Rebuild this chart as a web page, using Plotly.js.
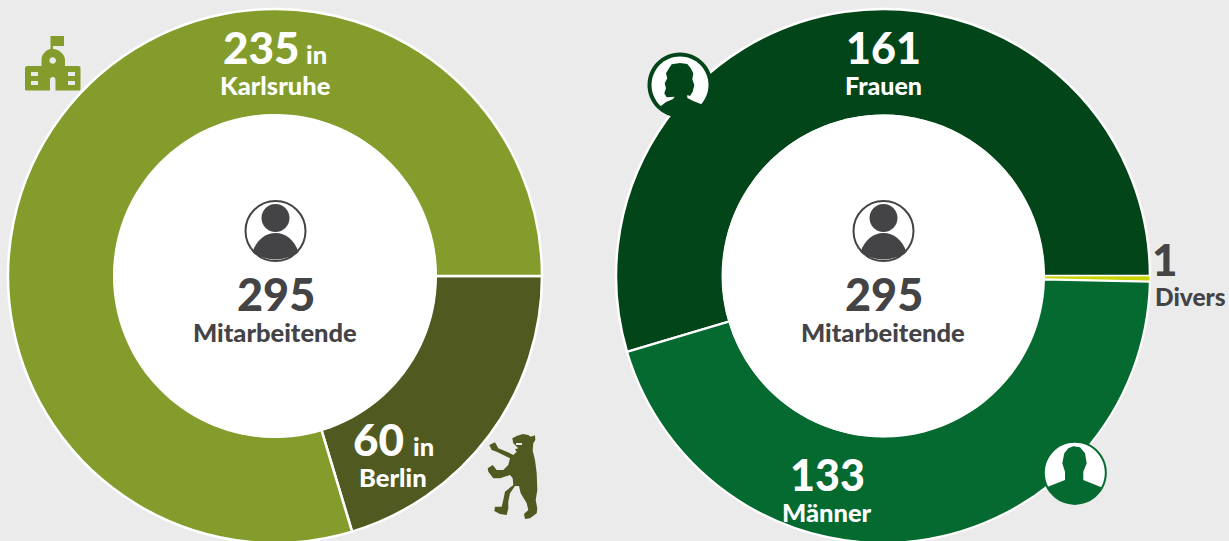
<!DOCTYPE html>
<html><head><meta charset="utf-8">
<script src="https://cdn.plot.ly/plotly-3.0.1.min.js"></script>
<style>html,body{margin:0;padding:0;background:#ebebeb;overflow:hidden;width:1229px;height:541px}</style>
</head><body><div id="chart"></div>
<script>
// Data
const siteLabels = ["Berlin", "Karlsruhe"];
const siteValues = [60, 235];
const siteColors = ["#505a20", "#849c2c"];
const genderLabels = ["Frauen", "Divers", "Männer"];
const genderValues = [161, 1, 133];
const genderColors = ["#024518", "#c8d400", "#056a2f"];
const totalLabel = "Mitarbeitende";
const total = 295;

const W = 1229, H = 552, FONT = 'Lato, sans-serif';
const GREY = "#444446";
const fx = p => p / W, fy = p => 1 - p / H;

// convert pixel path (M/L/C/Z, absolute) to paper fractions
function toPaper(d) {
  let i = 0;
  return d.replace(/-?\d+(\.\d+)?/g, n => { const v = +n; return (i++ % 2 === 0 ? fx(v) : fy(v)).toFixed(5); });
}
function circlePath(cx, cy, r) {
  const k = 0.5523 * r;
  return `M${cx - r} ${cy} C${cx - r} ${cy - k} ${cx - k} ${cy - r} ${cx} ${cy - r} C${cx + k} ${cy - r} ${cx + r} ${cy - k} ${cx + r} ${cy} C${cx + r} ${cy + k} ${cx + k} ${cy + r} ${cx} ${cy + r} C${cx - k} ${cy + r} ${cx - r} ${cy + k} ${cx - r} ${cy} Z`;
}
function poly(pts, ox, oy, s) {
  return "M" + pts.map(p => (ox + p[0] * s).toFixed(1) + " " + (oy + p[1] * s).toFixed(1)).join(" L") + " Z";
}
function rect(x0, y0, x1, y1) { return `M${x0} ${y0} L${x1} ${y0} L${x1} ${y1} L${x0} ${y1} Z`; }
const shape = (d, fill, line, lw) => ({
  type: "path", xref: "paper", yref: "paper", layer: "above", path: toPaper(d),
  fillcolor: fill, line: { color: line || fill, width: lw === undefined ? 0 : lw }
});

function personIcon(cx) {
  const cy = 231;
  return [
    shape(circlePath(cx, cy, 30), "#ffffff", GREY, 2),
    shape(circlePath(cx, cy - 13, 14), GREY),
    shape(`M${cx - 23} 252 C${cx - 19} 240 ${cx - 10} 233 ${cx} 233 C${cx + 10} 233 ${cx + 19} 240 ${cx + 23} 252 C${cx + 16} 257 ${cx + 8} 259.5 ${cx} 259.5 C${cx - 8} 259.5 ${cx - 16} 257 ${cx - 23} 252 Z`, GREY)
  ];
}

const BEAR = [[517,85],[530,78],[548,72],[565,75],[572,80],[585,76],[586,90],[580,100],[578,122],[585,150],[590,190],[592,240],[587,270],[592,295],[590,310],[570,325],[555,327],[552,312],[565,300],[560,280],[542,250],[537,228],[525,228],[510,250],[505,275],[505,295],[500,315],[480,312],[463,303],[465,290],[485,290],[490,270],[495,245],[520,225],[518,205],[510,195],[480,205],[460,205],[445,185],[443,175],[458,165],[470,180],[490,180],[505,165],[510,145],[490,135],[470,125],[455,120],[448,105],[465,97],[475,115],[500,125],[520,135],[530,125],[525,118],[535,115],[520,100]];
const WOMAN = [[90,200],[108,186],[128,178],[134,170],[110,172],[103,160],[108,145],[104,130],[112,115],[108,100],[117,85],[125,73],[150,69],[172,72],[182,85],[190,100],[187,118],[193,135],[188,155],[180,168],[172,165],[172,174],[190,183],[220,195],[197,212],[148,226],[100,212]];
const MAN = [[50,172],[105,150],[105,125],[97,100],[103,70],[115,55],[130,49],[150,52],[165,70],[170,100],[160,125],[160,150],[214,172],[208,185],[178,212],[134,224],[90,212],[60,185]];

const shapes = [
  shape(circlePath(275, 276, 162), "#ffffff"),
  shape(circlePath(883.5, 276, 161.5), "#ffffff"),
  ...personIcon(275.5), ...personIcon(883.5),
  // school
  shape(`M27 66 L41.5 66 L41.5 60 C41.5 54 46 50 50.5 49 L50.5 36 L64 36 L64 46 L53 46 L53 49 C59 49.5 65 54 65 60 L65 66 L78.5 66 C80 66 80.5 67 80.5 68 L80.5 89 C80.5 90 80 90.5 79 90.5 L55.5 90.5 L55.5 80 C55.5 78 54.5 77 52.8 77 C51 77 50 78 50 80 L50 90.5 L27 90.5 C26 90.5 25 90 25 89 L25 68 C25 67 26 66 27 66 Z`, "#849c2c"),
  shape(circlePath(52.7, 60.5, 3.3), "#ebebeb"),
  shape(rect(31, 72, 38, 76), "#ebebeb"), shape(rect(31, 81, 38, 85), "#ebebeb"),
  shape(rect(68, 72, 75, 76), "#ebebeb"), shape(rect(68, 81, 75, 85), "#ebebeb"),
  // bear
  shape(poly(BEAR, 340, 410, 1 / 3), "#505a20"),
  shape(rect(516, 443, 522, 445), "#ebebeb"),
  // woman
  shape(circlePath(680, 85, 32.5), "#024518"),
  shape(circlePath(680, 85, 28.5), "#ffffff"),
  shape(poly(WOMAN, 630, 40, 1 / 3), "#024518"),
  // man
  shape(circlePath(1074.8, 472.7, 32), "#056a2f"),
  shape(circlePath(1074.8, 472.7, 30), "#ffffff"),
  shape(poly(MAN, 1030, 430, 1 / 3), "#056a2f")
];

const txt = (text, x, y, size, color, anchor) => ({
  text: String(text), x: fx(x), y: fy(y), xref: "paper", yref: "paper",
  xanchor: anchor || "center", yanchor: "middle", showarrow: false, borderpad: 0, borderwidth: 0,
  font: { family: FONT, size, color, weight: 900 }
});

const annotations = [
  txt(siteValues[1], 261, 47, 44, "#fff"),
  txt("in", 316, 53.5, 25.5, "#fff"),
  txt(siteLabels[1], 275, 85, 25.5, "#fff"),
  txt(siteValues[0], 378.5, 439, 44, "#fff"),
  txt("in", 423, 445.5, 25.5, "#fff"),
  txt(siteLabels[0], 393, 477, 25.5, "#fff"),
  txt(total, 275.5, 294, 45, GREY),
  txt(totalLabel, 275, 332, 25.5, GREY),
  txt(total, 883.5, 294, 45, GREY),
  txt(totalLabel, 883, 332, 25.5, GREY),
  txt(genderValues[0], 883, 47, 43, "#fff"),
  txt(genderLabels[0], 883, 85, 25, "#fff"),
  txt(genderValues[2], 827, 474, 43, "#fff"),
  txt(genderLabels[2], 827, 512, 25.5, "#fff"),
  txt(genderValues[1], 1164.5, 259, 44, GREY),
  txt(genderLabels[1], 1190.5, 296, 24.5, GREY)
];

const common = { type: "pie", hole: 0.6, sort: false, direction: "clockwise", textinfo: "none", hoverinfo: "label+value", showlegend: false };
const traces = [
  Object.assign({}, common, {
    labels: siteLabels, values: siteValues, rotation: 90,
    marker: { colors: siteColors, line: { color: "#ffffff", width: 2.5 } },
    domain: { x: [8 / W, 542 / W], y: [9 / H, 543 / H] }
  }),
  Object.assign({}, common, {
    labels: genderLabels, values: genderValues, rotation: 253.5,
    marker: { colors: genderColors, line: { color: "#ffffff", width: [2.5, 1, 2.2] } },
    domain: { x: [616 / W, 1150 / W], y: [9 / H, 543 / H] }
  })
];

Plotly.newPlot("chart", traces, {
  width: W, height: H, margin: { l: 0, r: 0, t: 0, b: 0 },
  paper_bgcolor: "#ebebeb", plot_bgcolor: "#ebebeb",
  shapes, annotations, font: { family: FONT }
}, { displayModeBar: false, staticPlot: true });
</script></body></html>
